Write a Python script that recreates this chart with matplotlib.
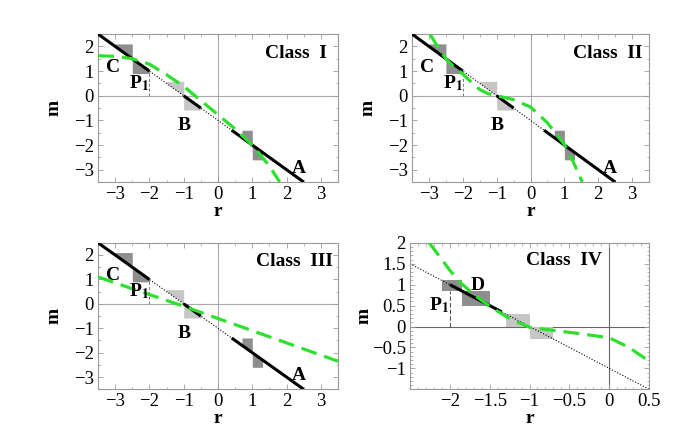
import matplotlib
matplotlib.use("Agg")
import matplotlib.pyplot as plt
import numpy as np

plt.rcParams["font.family"] = ["Liberation Serif", "DejaVu Serif"]
plt.rcParams["mathtext.fontset"] = "stix"

# dotted reference line m = -r - 1
line_r = [-3.5, 3.5]
line_m = [2.5, -4.5]

# solid black pieces on the line (start r, end r)
seg_start = [-3.5, -1.0, 0.4]
seg_end = [-2.0, -0.5, 2.5]
seg4_start = [-2.0]
seg4_end = [-1.35]

# shaded squares around the points C, B, A
sq_r = [-2.5, -1.0, 1.0]
sq_m = [1.5, 0.0, -2.0]
sq_w = [0.5, 0.5, 0.3]
sq_h = [0.6, 0.58, 0.6]
sq_dark = [True, False, True]

# Class IV boxes, each with the line as its diagonal (r from, r to)
box4_r0 = [-2.1, -1.85, -1.3, -1.0]
box4_r1 = [-1.85, -1.5, -1.0, -0.7]
box4_dark = [True, True, False, False]

# green dashed curves
g1_r = [-3.5, -3.0, -2.5, -2.0, -1.5, -1.0, -0.5, 0.0, 0.5, 1.0, 1.5, 1.8]
g1_m = [1.62, 1.6, 1.5, 1.28, 0.85, 0.38, -0.2, -0.77, -1.35, -2.0, -2.85, -3.5]

g2_r = [-2.97, -2.75, -2.5, -2.25, -2.0, -1.75, -1.5, -1.25, -1.0, -0.5, 0.0, 0.5, 1.0, 1.25, 1.53]
g2_m = [2.5, 2.0, 1.5, 1.15, 0.88, 0.55, 0.25, 0.08, 0.0, -0.16, -0.46, -1.1, -1.98, -2.65, -3.5]

g3_r = [-3.5, -2.0, -1.0, 0.0, 1.0, 2.0, 3.5]
g3_m = [1.1, 0.38, -0.1, -0.6, -1.1, -1.6, -2.35]

g4_r = [-2.26, -2.1, -2.0, -1.85, -1.71, -1.5, -1.25, -1.0, -0.67, -0.33, 0.0, 0.25, 0.5]
g4_m = [2.0, 1.6, 1.34, 1.02, 0.78, 0.48, 0.19, -0.02, -0.1, -0.18, -0.27, -0.5, -0.83]

GREEN = "#2ee02e"
DARK = "#8e8e8e"
LIGHT = "#c6c6c6"
FRAME = "#9a9a9a"


def on_line(r):
    return np.interp(r, line_r, line_m)


def squares(ax, rs, ms, ws, hs, darks):
    for rc, mc, w, h, d in zip(rs, ms, ws, hs, darks):
        c = DARK if d else LIGHT
        rl = np.linspace(rc - w, rc, 20)
        ax.fill_between(rl, on_line(rl), mc + h, color=c, lw=0, zorder=1)
        rr = np.linspace(rc, rc + w, 20)
        ax.fill_between(rr, mc - h, on_line(rr), color=c, lw=0, zorder=1)


def frame(ax, xlim, ylim, xt, yt, xlab=None, ylab=None, minor=0.5):
    ax.set_xlim(xlim)
    ax.set_ylim(ylim)
    for s in ax.spines.values():
        s.set_color(FRAME)
        s.set_linewidth(0.8)
    ax.set_xticks(xt)
    ax.set_yticks(yt)
    if xlab is not None:
        ax.set_xticklabels(xlab)
    if ylab is not None:
        ax.set_yticklabels(ylab)
    ax.set_xticks(np.arange(xlim[0], xlim[1] + 1e-9, minor), minor=True)
    ax.set_yticks(np.arange(ylim[0], ylim[1] + 1e-9, minor), minor=True)
    ax.tick_params(which="major", direction="in", length=3.5, width=0.6, color=FRAME,
                   top=True, right=True, labelsize=13.5, pad=3)
    ax.tick_params(which="minor", direction="in", length=1.8, width=0.5, color=FRAME,
                   top=True, right=True)
    ax.set_xlabel("r", fontweight="bold", fontsize=14, labelpad=0)
    ax.set_ylabel("m", fontweight="bold", fontsize=14, labelpad=8)


def class_panel(ax, gr, gm, title, tx):
    frame(ax, (-3.5, 3.5), (-3.5, 2.5), [-3, -2, -1, 0, 1, 2, 3], [2, 1, 0, -1, -2, -3])
    ax.axhline(0, color="#aaaaaa", lw=0.8, zorder=0)
    ax.axvline(0, color="#aaaaaa", lw=0.8, zorder=0)
    squares(ax, sq_r, sq_m, sq_w, sq_h, sq_dark)
    ax.plot(line_r, line_m, color="black", lw=0.8, ls=(0, (1, 1.6)), zorder=2)
    for a, b in zip(seg_start, seg_end):
        ax.plot([a, b], on_line([a, b]), color="black", lw=2.2, zorder=3,
                solid_capstyle="butt")
    ax.plot([-2, -2], [0, 1], color="#777777", lw=0.7, ls=(0, (3, 2)), zorder=2)
    ax.plot(gr, gm, color=GREEN, lw=2.3, ls=(0, (5, 2.5)), zorder=4)
    kw = dict(fontweight="bold", fontsize=14, zorder=5)
    ax.text(-3.05, 1.15, "C", ha="center", va="center", **kw)
    ax.text(-2.3, 0.5, r"P$_{\mathbf{1}}$", ha="center", va="center", **kw)
    ax.text(-1.0, -1.2, "B", ha="center", va="center", **kw)
    ax.text(2.35, -2.95, "A", ha="center", va="center", **kw)
    ax.text(tx, 0.87, title, transform=ax.transAxes, ha="right", va="center",
            fontweight="bold", fontsize=14)


fig = plt.figure(figsize=(6.94, 4.44), dpi=100)
ax1 = fig.add_axes([0.1412, 0.590, 0.3458, 0.3333])
ax2 = fig.add_axes([0.5937, 0.590, 0.3415, 0.3333])
ax3 = fig.add_axes([0.1412, 0.1232, 0.3458, 0.330])
ax4 = fig.add_axes([0.5908, 0.1232, 0.3444, 0.330])

class_panel(ax1, g1_r, g1_m, "Class  I", 0.955)
class_panel(ax2, g2_r, g2_m, "Class  II", 0.97)
class_panel(ax3, g3_r, g3_m, "Class  III", 0.98)

# Class IV
frame(ax4, (-2.5, 0.5), (-1.5, 2.0), [-2, -1.5, -1, -0.5, 0, 0.5],
      [2, 1.5, 1, 0.5, 0, -0.5, -1],
      xlab=["\u22122", "\u22121.5", "\u22121", "\u22120.5", "0", "0.5"],
      ylab=["2", "1.5", "1", "0.5", "0", "\u22120.5", "\u22121"], minor=0.1)
ax4.yaxis.set_label_coords(-0.155, 0.5)
ax4.axhline(0, color="#666666", lw=0.8, zorder=0)
ax4.axvline(0, color="#666666", lw=0.8, zorder=0)
for a, b, d in zip(box4_r0, box4_r1, box4_dark):
    ma, mb = on_line([a, b])
    ax4.fill_between([a, b], [mb, mb], [ma, ma], color=DARK if d else LIGHT, lw=0, zorder=1)
ax4.plot([-2.5, 0.5], on_line([-2.5, 0.5]), color="black", lw=0.8, ls=(0, (1, 1.6)), zorder=2)
for a, b in zip(seg4_start, seg4_end):
    ax4.plot([a, b], on_line([a, b]), color="black", lw=2.2, zorder=3, solid_capstyle="butt")
ax4.plot([-2, -2], [0, 0.86], color="#555555", lw=0.8, ls=(0, (4, 2)), zorder=2)
ax4.plot(g4_r, g4_m, color=GREEN, lw=2.3, ls=(0, (5, 2.5)), zorder=4)
ax4.text(-2.13, 0.5, r"P$_{\mathbf{1}}$", ha="center", va="center", fontweight="bold", fontsize=14)
ax4.text(-1.65, 0.97, "D", ha="center", va="center", fontweight="bold", fontsize=14)
ax4.text(0.805, 0.88, "Class  IV", transform=ax4.transAxes, ha="right", va="center",
         fontweight="bold", fontsize=14)

fig.savefig("out.png", dpi=100)
